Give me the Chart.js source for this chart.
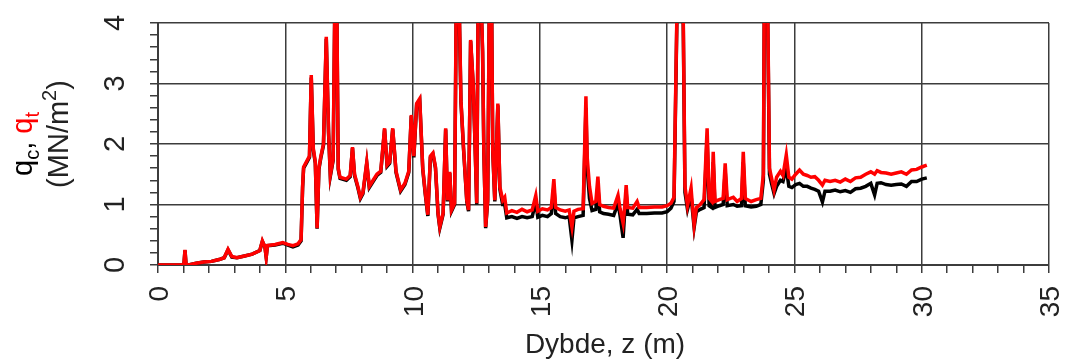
<!DOCTYPE html>
<html>
<head>
<meta charset="utf-8">
<script src="https://cdn.jsdelivr.net/npm/chart.js@4/dist/chart.umd.min.js"></script>
<style>
  body { margin: 0; background: #fff; }
</style>
</head>
<body>
<canvas id="chart-1" width="1069" height="361"></canvas>
<script>
// depth (m)
var depth = [
  0.0, 0.9, 1.02, 1.06, 1.10, 1.2, 1.5, 1.8, 2.1, 2.4, 2.6, 2.75, 2.9, 3.1, 3.4, 3.7, 4.0, 4.1, 4.2, 4.25,
  4.3, 4.6, 4.9, 5.1, 5.3, 5.5, 5.62, 5.68, 5.72, 5.85, 5.95, 6.02, 6.1, 6.18, 6.25, 6.32, 6.4, 6.5, 6.61, 6.7,
  6.77, 6.88, 6.95, 7.02, 7.08, 7.15, 7.4, 7.55, 7.64, 7.72, 7.85, 7.95, 8.05, 8.2, 8.3, 8.45, 8.6, 8.75, 8.9, 9.0,
  9.1, 9.22, 9.35, 9.53, 9.7, 9.85, 9.95, 10.05, 10.16, 10.28, 10.4, 10.5, 10.6, 10.7, 10.8, 10.9, 11.0, 11.07, 11.2, 11.3,
  11.37, 11.46, 11.53, 11.65, 11.72, 11.82, 11.9, 12.0, 12.13, 12.2, 12.28, 12.38, 12.45, 12.52, 12.58, 12.68, 12.75, 12.8, 12.87, 12.95,
  13.02, 13.1, 13.15, 13.23, 13.35, 13.43, 13.54, 13.62, 13.7, 13.9, 14.1, 14.3, 14.5, 14.7, 14.84, 14.92, 15.1, 15.3, 15.45, 15.55,
  15.62, 15.8, 16.0, 16.15, 16.26, 16.34, 16.5, 16.7, 16.81, 16.86, 16.95, 17.05, 17.2, 17.28, 17.35, 17.5, 17.7, 17.9, 18.07, 18.15,
  18.27, 18.33, 18.39, 18.45, 18.65, 18.82, 18.9, 19.2, 19.5, 19.8, 20.0, 20.15, 20.27, 20.4, 20.5, 20.55, 20.62, 20.7, 20.8, 20.94,
  21.0, 21.06, 21.15, 21.3, 21.45, 21.57, 21.65, 21.75, 21.81, 21.88, 22.05, 22.2, 22.28, 22.36, 22.6, 22.75, 22.92, 22.99, 23.07, 23.3,
  23.5, 23.68, 23.78, 23.82, 23.94, 24.02, 24.1, 24.2, 24.3, 24.45, 24.55, 24.68, 24.78, 24.9, 25.05, 25.2, 25.35, 25.5, 25.65, 25.8,
  25.95, 26.1, 26.2, 26.4, 26.6, 26.8, 27.0, 27.2, 27.4, 27.6, 27.8, 28.0, 28.15, 28.25, 28.4, 28.6, 28.8, 29.0, 29.2, 29.4,
  29.6, 29.8, 30.0, 30.2
];

// corrected cone resistance qt (MN/m2) - red
var qt = [
  0.00, 0.00, 0.02, 0.25, 0.02, 0.00, 0.03, 0.05, 0.06, 0.09, 0.12, 0.26, 0.14, 0.12, 0.15, 0.18, 0.24, 0.40, 0.30, 0.13,
  0.32, 0.34, 0.37, 0.34, 0.32, 0.35, 0.42, 1.30, 1.62, 1.72, 1.80, 3.14, 1.93, 1.70, 0.61, 1.60, 1.80, 2.00, 3.77, 2.20,
  1.49, 1.75, 4.50, 4.50, 1.60, 1.45, 1.42, 1.48, 1.95, 1.50, 1.30, 1.12, 1.20, 1.70, 1.30, 1.40, 1.50, 1.55, 2.26, 1.65,
  1.70, 2.26, 1.55, 1.24, 1.35, 1.55, 2.48, 1.80, 2.67, 2.75, 1.60, 1.19, 0.83, 1.80, 1.85, 1.62, 0.86, 0.63, 0.86, 2.26,
  1.07, 1.54, 0.91, 1.02, 4.60, 4.60, 2.73, 1.95, 1.07, 0.91, 3.72, 3.00, 2.07, 1.02, 4.60, 4.60, 3.55, 1.90, 0.63, 1.07,
  4.60, 4.60, 1.90, 1.07, 2.67, 1.29, 1.07, 1.12, 0.86, 0.90, 0.87, 0.92, 0.88, 0.91, 1.15, 0.89, 0.93, 0.91, 0.95, 1.42,
  0.95, 0.91, 0.89, 0.91, 0.63, 0.89, 0.92, 0.93, 2.79, 1.78, 1.30, 1.02, 1.05, 1.46, 1.00, 0.97, 0.95, 0.94, 1.15, 0.93,
  0.69, 0.95, 1.32, 0.95, 0.94, 1.05, 0.95, 0.95, 0.96, 0.96, 0.98, 1.02, 1.12, 4.60, 4.60, 4.60, 4.60, 1.30, 0.98, 1.27,
  0.95, 0.66, 0.95, 1.00, 1.08, 2.26, 1.10, 1.05, 1.87, 1.05, 1.08, 1.10, 1.68, 1.08, 1.12, 1.05, 1.10, 1.87, 1.10, 1.05,
  1.08, 1.10, 1.50, 4.60, 4.60, 1.60, 1.44, 1.24, 1.45, 1.55, 1.48, 1.82, 1.45, 1.42, 1.50, 1.57, 1.50, 1.48, 1.45, 1.46,
  1.40, 1.32, 1.40, 1.38, 1.40, 1.37, 1.42, 1.38, 1.44, 1.45, 1.50, 1.54, 1.50, 1.56, 1.53, 1.52, 1.50, 1.52, 1.54, 1.50,
  1.57, 1.58, 1.62, 1.65
];

// measured cone resistance qc (MN/m2) - black
var qc = [
  0.00, 0.00, 0.02, 0.24, 0.02, 0.00, 0.03, 0.05, 0.06, 0.09, 0.12, 0.25, 0.13, 0.12, 0.15, 0.18, 0.24, 0.39, 0.30, 0.13,
  0.32, 0.33, 0.36, 0.33, 0.30, 0.33, 0.40, 1.28, 1.60, 1.70, 1.78, 3.10, 1.90, 1.68, 0.60, 1.58, 1.78, 1.98, 3.74, 2.18,
  1.47, 1.73, 4.40, 4.40, 1.58, 1.43, 1.40, 1.46, 1.93, 1.48, 1.28, 1.10, 1.18, 1.68, 1.28, 1.38, 1.48, 1.53, 2.24, 1.63,
  1.68, 2.24, 1.53, 1.22, 1.33, 1.53, 2.46, 1.78, 2.65, 2.73, 1.58, 1.17, 0.81, 1.78, 1.83, 1.60, 0.84, 0.61, 0.84, 2.24,
  1.05, 1.52, 0.89, 1.00, 4.50, 4.50, 2.70, 1.93, 1.05, 0.89, 3.70, 2.98, 2.05, 1.00, 4.50, 4.50, 3.52, 1.88, 0.61, 1.05,
  4.50, 4.50, 1.88, 1.05, 2.64, 1.25, 1.00, 1.00, 0.78, 0.80, 0.77, 0.80, 0.78, 0.80, 1.05, 0.79, 0.82, 0.80, 0.85, 1.30,
  0.85, 0.80, 0.78, 0.80, 0.41, 0.78, 0.80, 0.82, 2.60, 1.60, 1.10, 0.90, 0.92, 1.30, 0.88, 0.85, 0.84, 0.82, 1.02, 0.82,
  0.45, 0.85, 1.20, 0.84, 0.83, 0.92, 0.85, 0.85, 0.86, 0.86, 0.88, 0.94, 1.05, 4.50, 4.50, 4.50, 4.50, 1.20, 0.92, 1.15,
  0.88, 0.62, 0.88, 0.92, 0.95, 2.10, 0.98, 0.95, 1.70, 0.95, 0.98, 1.00, 1.55, 0.98, 1.00, 0.97, 0.98, 1.70, 0.98, 0.96,
  0.97, 1.00, 1.40, 4.50, 4.50, 1.50, 1.35, 1.18, 1.30, 1.40, 1.38, 1.60, 1.30, 1.28, 1.33, 1.35, 1.30, 1.30, 1.27, 1.25,
  1.22, 1.04, 1.22, 1.22, 1.24, 1.21, 1.23, 1.20, 1.26, 1.27, 1.30, 1.35, 1.16, 1.35, 1.36, 1.33, 1.32, 1.33, 1.34, 1.30,
  1.38, 1.38, 1.42, 1.44
];

var yTickLabels = [0, 1, 2, 3, 4];
var xTickLabels = [0, 5, 10, 15, 20, 25, 30, 35];

var FONT = "'Liberation Sans', Arial, sans-serif";
var GRID = "#3c3c3c";

function isWhole(v, step) {
  var r = v / step;
  return Math.abs(r - Math.round(r)) < 1e-6;
}

// rotated tick labels + axis titles
var labelPlugin = {
  id: "labels",
  afterDraw: function (chart) {
    var ctx = chart.ctx;
    var xs = chart.scales.x;
    var ys = chart.scales.y;
    ctx.save();
    ctx.fillStyle = "#222";

    // y tick labels, reading bottom to top
    ctx.font = "29px " + FONT;
    ctx.textAlign = "center";
    ctx.textBaseline = "alphabetic";
    yTickLabels.forEach(function (v) {
      ctx.save();
      ctx.translate(124, ys.getPixelForValue(v));
      ctx.rotate(-Math.PI / 2);
      ctx.fillText(String(v), 0, 0);
      ctx.restore();
    });

    // x tick labels
    ctx.font = "28px " + FONT;
    ctx.textAlign = "right";
    xTickLabels.forEach(function (v) {
      ctx.save();
      ctx.translate(xs.getPixelForValue(v) + 10, 286);
      ctx.rotate(-Math.PI / 2);
      ctx.fillText(String(v), 0, 0);
      ctx.restore();
    });

    // x title
    ctx.textAlign = "center";
    ctx.font = "28px " + FONT;
    ctx.fillText("Dybde, z (m)", 605, 353);

    // y title, two lines
    var parts = [
      { t: "q", c: "#000", sub: false },
      { t: "c", c: "#000", sub: true },
      { t: ", ", c: "#000", sub: false },
      { t: "q", c: "#f00", sub: false },
      { t: "t", c: "#f00", sub: true }
    ];
    drawRich(ctx, parts, 32, 144, 29);
    drawRich(ctx, [
      { t: "(MN/m", c: "#222", sub: false },
      { t: "2", c: "#222", sup: true },
      { t: ")", c: "#222", sub: false }
    ], 68, 134, 29);
    ctx.restore();
  }
};

function drawRich(ctx, parts, bx, cy, size) {
  var small = Math.round(size * 0.7);
  var total = 0;
  parts.forEach(function (p) {
    ctx.font = (p.sub || p.sup ? small : size) + "px " + FONT;
    p.w = ctx.measureText(p.t).width;
    total += p.w;
  });
  ctx.save();
  ctx.translate(bx, cy);
  ctx.rotate(-Math.PI / 2);
  ctx.textAlign = "left";
  ctx.textBaseline = "alphabetic";
  var x = -total / 2;
  parts.forEach(function (p) {
    ctx.font = (p.sub || p.sup ? small : size) + "px " + FONT;
    ctx.fillStyle = p.c;
    var dy = p.sub ? size * 0.25 : (p.sup ? -size * 0.4 : 0);
    ctx.fillText(p.t, x, dy);
    x += p.w;
  });
  ctx.restore();
}

var chartOne = document.getElementById("chart-1").getContext("2d");
var myLineChart = new Chart(chartOne, {
  type: "line",
  data: {
    datasets: [
      {
        label: "qt",
        data: depth.map(function (d, i) { return { x: d, y: qt[i] }; }),
        borderColor: "#ff0000",
        borderWidth: 3.5,
        pointRadius: 0,
        tension: 0,
        clip: 0,
      },
      {
        label: "qc",
        data: depth.map(function (d, i) { return { x: d, y: qc[i] }; }),
        borderColor: "#000000",
        borderWidth: 3.5,
        pointRadius: 0,
        tension: 0,
        clip: 0,
      },
    ],
  },
  options: {
    responsive: false,
    animation: false,
    layout: { padding: { top: 23, right: 20, left: 0, bottom: 0 } },
    plugins: {
      legend: { display: false },
      tooltip: { enabled: false },
    },
    scales: {
      x: {
        type: "linear",
        min: 0,
        max: 35,
        afterFit: function (s) { s.height = 96; },
        ticks: { stepSize: 1, display: false },
        grid: {
          color: function (c) { return isWhole(c.tick.value, 5) ? GRID : "rgba(0,0,0,0)"; },
          tickColor: GRID,
          lineWidth: 1.5,
          tickLength: 8,
        },
        border: { color: GRID, width: 2 },
      },
      y: {
        min: 0,
        max: 4,
        afterFit: function (s) { s.width = 158; },
        ticks: { stepSize: 0.2, display: false },
        grid: {
          color: function (c) { return isWhole(c.tick.value, 1) ? GRID : "rgba(0,0,0,0)"; },
          tickColor: GRID,
          lineWidth: 1.5,
          tickLength: 8,
        },
        border: { color: GRID, width: 2 },
      },
    },
  },
  plugins: [labelPlugin],
});
</script>
</body>
</html>
